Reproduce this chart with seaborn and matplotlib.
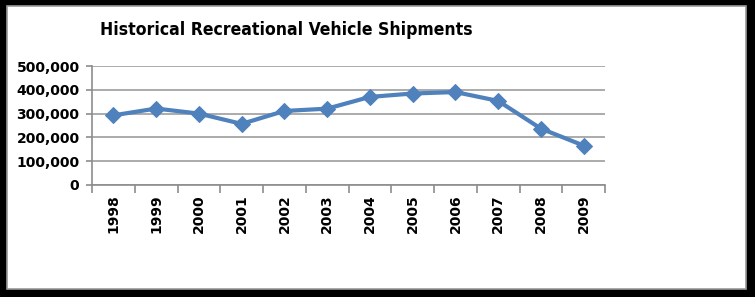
import matplotlib
matplotlib.use("Agg")
import matplotlib.pyplot as plt
import matplotlib.patches as mpatches
from matplotlib.ticker import FuncFormatter, MultipleLocator
import seaborn as sns
import pandas as pd

years = ["1998", "1999", "2000", "2001", "2002", "2003", "2004", "2005", "2006", "2007", "2008", "2009"]
shipments = [292700, 321200, 300100, 256800, 311000, 320800, 370100, 384400, 390500, 353400, 237000, 165700]
title = "Historical Recreational Vehicle Shipments"

df = pd.DataFrame({"year": years, "shipments": shipments})

sns.set_theme(style="white")
W, H = 755, 297
fig = plt.figure(figsize=(W / 100, H / 100), dpi=100, facecolor="black")

# white panel inside black frame
fig.patches.append(mpatches.Rectangle((7 / W, 1 - 289 / H), (746 - 7) / W, (289 - 6) / H,
                                      transform=fig.transFigure, facecolor="white",
                                      edgecolor="#9a9a9a", linewidth=1.2, zorder=-5))

ax = fig.add_axes([92 / W, 1 - 185 / H, (605 - 92) / W, (185 - 66) / H])
ax.set_zorder(2)
ax.patch.set_alpha(0)

x = list(range(len(years)))
sns.lineplot(x=x, y=df["shipments"], ax=ax, color="#4F81BD", linewidth=3,
             marker="D", markersize=8, markeredgecolor="#4F81BD", zorder=3)

ax.set_xlim(-0.5, len(years) - 0.5)
ax.set_ylim(0, 500000)
ax.yaxis.set_major_locator(MultipleLocator(100000))
ax.yaxis.set_major_formatter(FuncFormatter(lambda v, p: f"{int(v):,}"))
ax.grid(axis="y", color="#959595", linewidth=1.1)
ax.grid(axis="x", visible=False)

for s in ["top", "right"]:
    ax.spines[s].set_visible(False)
ax.spines["left"].set_color("#8c8c8c")
ax.spines["bottom"].set_color("#8c8c8c")
ax.spines["left"].set_linewidth(1.2)
ax.spines["bottom"].set_linewidth(1.2)

# category labels at centers, ticks at boundaries
ax.set_xticks(x)
ax.set_xticklabels(years, rotation=90, fontsize=10, fontweight="bold", color="black")
ax.set_xticks([i - 0.5 for i in range(len(years) + 1)], minor=True)
ax.tick_params(axis="x", which="major", length=0, pad=7)
ax.tick_params(axis="x", which="minor", length=6, width=1.2, color="#8c8c8c", direction="out", bottom=True)
ax.tick_params(axis="y", length=4, width=1.2, color="#8c8c8c", direction="out", left=True,
               labelsize=10, labelcolor="black", pad=5)
for lbl in ax.get_yticklabels():
    lbl.set_fontweight("bold")
ax.set_xlabel("")
ax.set_ylabel("")

fig.text(100 / W, 1 - 30 / H, title, fontsize=12.6, fontweight="heavy", color="black",
         ha="left", va="center", fontstretch="condensed")

fig.savefig("out.png", dpi=100, facecolor="black")
